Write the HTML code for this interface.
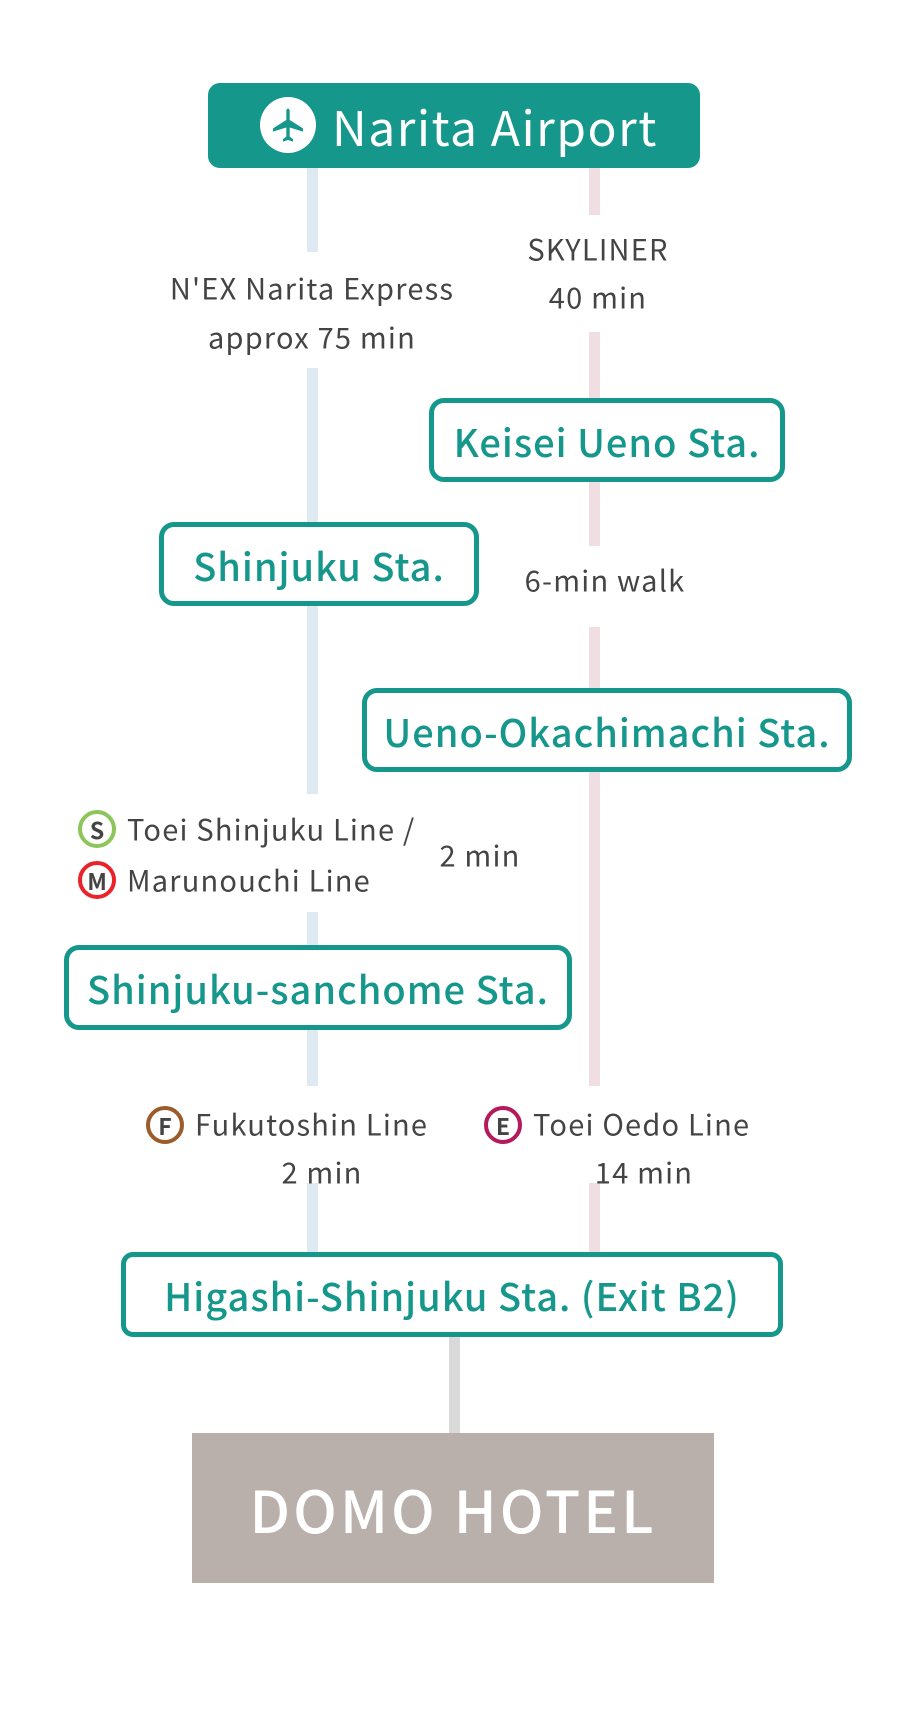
<!DOCTYPE html>
<html><head><meta charset="utf-8"><style>
body{margin:0;width:904px;height:1711px;background:#fff;position:relative;overflow:hidden;font-family:"Noto Sans CJK JP","Liberation Sans",sans-serif;}
.a{position:absolute;}
.lb{background:#dfe9f1;width:11px;left:307px;}
.lp{background:#f0dee3;width:11px;left:589px;}
.st{position:absolute;box-sizing:border-box;border:5px solid #16978c;border-radius:15px;background:#fff;color:#16978c;font-size:38px;font-weight:500;letter-spacing:1px;display:flex;align-items:center;justify-content:center;white-space:nowrap;}
.t{position:absolute;color:#444;font-size:29px;letter-spacing:1.2px;white-space:nowrap;transform:translate(-50%,-50%);line-height:1;}
.tl{position:absolute;color:#444;font-size:29px;letter-spacing:1.2px;white-space:nowrap;transform:translateY(-50%);line-height:1;}
.ic{position:absolute;width:38px;height:38px;box-sizing:border-box;border:4px solid;border-radius:50%;transform:translate(-50%,-50%);display:flex;align-items:center;justify-content:center;font-size:23px;font-weight:700;color:#444;background:#fff;}
</style></head><body>
<div class="a lb" style="top:167px;height:85px"></div>
<div class="a lb" style="top:368px;height:156px"></div>
<div class="a lb" style="top:604px;height:190px"></div>
<div class="a lb" style="top:912px;height:34px"></div>
<div class="a lb" style="top:1030px;height:56px"></div>
<div class="a lb" style="top:1183px;height:70px"></div>
<div class="a lp" style="top:167px;height:48px"></div>
<div class="a lp" style="top:332px;height:68px"></div>
<div class="a lp" style="top:480px;height:66px"></div>
<div class="a lp" style="top:627px;height:62px"></div>
<div class="a lp" style="top:770px;height:316px"></div>
<div class="a lp" style="top:1183px;height:70px"></div>
<div class="a" style="left:449px;top:1336px;width:11px;height:98px;background:#d9d9d9"></div>

<div class="a" style="left:208px;top:83px;width:492px;height:85px;background:#16978c;border-radius:12px;"></div>
<div class="a" style="left:260px;top:97px;width:56px;height:56px;border-radius:50%;background:#fff;"></div>
<svg class="a" style="left:268px;top:105px" width="40" height="40" viewBox="0 0 24 24"><path fill="#16978c" d="M21 16v-2l-8-5V3.5C13 2.67 12.33 2 11.5 2h1C11.67 2 11 2.67 11 3.5V9l-8 5v2l8-2.5V19l-2 1.5V22l3-1 3 1v-1.5L13 19v-5.5l8 2.5z"/></svg>
<div class="a" style="left:332px;top:96px;color:#fff;font-size:48px;line-height:58px;letter-spacing:1.5px;white-space:nowrap;">Narita Airport</div>

<div class="t" style="left:312px;top:288px">N'EX Narita Express</div>
<div class="t" style="left:312px;top:337px">approx 75 min</div>
<div class="t" style="left:598px;top:249px">SKYLINER</div>
<div class="t" style="left:598px;top:297px">40 min</div>
<div class="st" style="left:429px;top:398px;width:356px;height:84px">Keisei Ueno Sta.</div>
<div class="st" style="left:159px;top:522px;width:320px;height:84px">Shinjuku Sta.</div>
<div class="t" style="left:605px;top:580px">6-min walk</div>
<div class="st" style="left:362px;top:688px;width:490px;height:84px">Ueno-Okachimachi Sta.</div>

<div class="ic" style="left:97px;top:829px;border-color:#8cc55a">S</div>
<div class="tl" style="left:127px;top:829px">Toei Shinjuku Line /</div>
<div class="ic" style="left:97px;top:880px;border-color:#e8242a">M</div>
<div class="tl" style="left:127px;top:880px">Marunouchi Line</div>
<div class="t" style="left:480px;top:855px">2 min</div>
<div class="st" style="left:64px;top:945px;width:508px;height:85px">Shinjuku-sanchome Sta.</div>

<div class="ic" style="left:165px;top:1125px;border-color:#9c5c2a">F</div>
<div class="tl" style="left:195px;top:1124px">Fukutoshin Line</div>
<div class="t" style="left:322px;top:1172px">2 min</div>
<div class="ic" style="left:503px;top:1125px;border-color:#b6195a">E</div>
<div class="tl" style="left:533px;top:1124px">Toei Oedo Line</div>
<div class="t" style="left:644px;top:1172px">14 min</div>

<div class="st" style="left:121px;top:1252px;width:662px;height:85px;border-radius:12px">Higashi-Shinjuku Sta. (Exit B2)</div>
<div class="a" style="left:192px;top:1433px;width:522px;height:150px;background:#bab0ab;color:#fff;font-size:58px;font-weight:500;letter-spacing:3px;display:flex;align-items:center;justify-content:center;">DOMO HOTEL</div>
</body></html>
